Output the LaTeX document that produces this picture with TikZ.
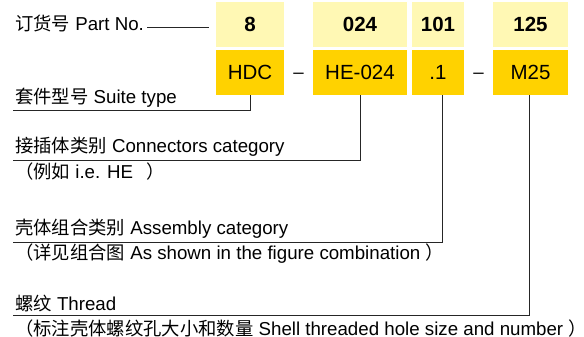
\documentclass[tikz,border=0pt]{standalone}
\usepackage{fontspec}
\setmainfont{Liberation Sans}
\newfontfamily\cjk[Scale=0.98]{Noto Sans CJK SC}
\usetikzlibrary{positioning,calc}

\definecolor{codeyellow}{RGB}{255,248,180}
\definecolor{partgold}{RGB}{255,210,0}

\begin{document}
\begin{tikzpicture}[x=1pt, y=-1pt,
    codebox/.style={fill=codeyellow, inner sep=0pt, minimum height=45pt, text height=14.7pt, text depth=0pt, font=\fontsize{20.5}{22}\selectfont},
    partbox/.style={fill=partgold, inner sep=0pt, minimum height=45pt, text height=14.7pt, text depth=0pt, font=\fontsize{20.5}{22}\selectfont},
    hyph/.style={inner sep=0pt, text height=12.9pt, text depth=0pt},
    lab/.style={anchor=base west, inner xsep=2pt, inner ysep=0pt},
    link/.style={black!85, line width=0.9pt}]
        \useasboundingbox (0,0) rectangle (584,337);
        \fontsize{18.7}{20}\selectfont
        % code row and part row
        \foreach \n/\x/\w/\code/\part in {a/250/68/8/HDC, b/360/94/024/HE-024, c/438/52/101/.1, d/530.5/75/125/M25}
          {\node[codebox, minimum width=\w] (code\n) at (\x,24.5) {\textbf{\code}};
           \node[partbox, minimum width=\w] (part\n) at (\x,72.5) {\part};}
        \node[hyph] (dash1) at (298.5,72.5) {–};
        \node[hyph] (dash2) at (478.5,72.5) {–};
        % labels
        \node[lab] (partno) at (13,31) {{\cjk 订货号} Part No.};
        \node[lab] (suite) at (13,103) {{\cjk 套件型号} Suite type};
        \node[lab] (conn) at (13,152) {{\cjk 接插体类别} Connectors category};
        \node[lab] (connnote) at (13,178) {{\cjk （例如} i.e. HE\ \ \,{\cjk ）}};
        \node[lab] (asm) at (13,234) {{\cjk 壳体组合类别} Assembly category};
        \node[lab] (asmnote) at (13,259) {{\cjk （详见组合图} As shown in the figure combination {\cjk ）}};
        \node[lab] (thread) at (13,310) {{\cjk 螺纹} Thread};
        \node[lab] (threadnote) at (13,335) {{\cjk （标注壳体螺纹孔大小和数量} Shell threaded hole size and number {\cjk ）}};
        % leaders
        \draw[link] ($(partno.base east)+(1,-4)$) -- ($(codea.west |- partno.base)+(-7,-4)$);
        \draw[link] (parta.south) |- ($(suite.base west)+(0,7)$);
        \draw[link] (partb.south) |- ($(conn.base west)+(0,8)$);
        \draw[link] ($(partc.south)+(4,0)$) |- ($(asm.base west)+(0,8)$);
        \draw[link] ($(partd.south)+(-1,0)$) |- ($(thread.base west)+(0,5)$);
      \end{tikzpicture}
\end{document}
